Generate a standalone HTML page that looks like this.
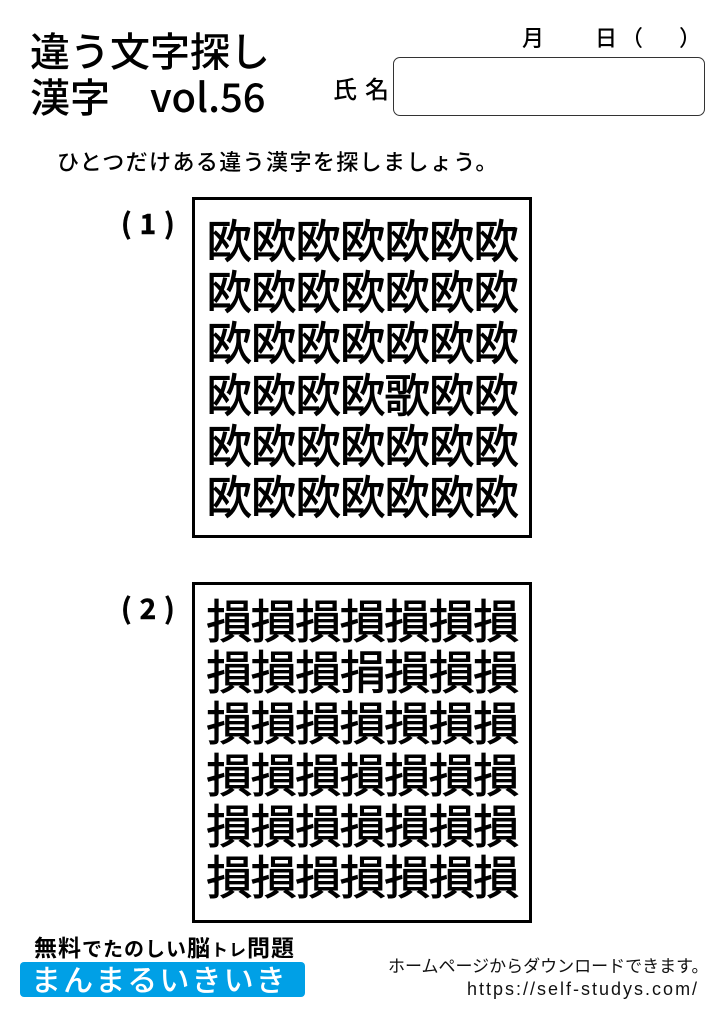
<!DOCTYPE html>
<html><head><meta charset="utf-8">
<style>
html,body{margin:0;padding:0;background:#fff;}
body{width:724px;height:1024px;position:relative;overflow:hidden;font-family:"Liberation Sans","Noto Sans CJK JP",sans-serif;color:#000;}
.a{position:absolute;white-space:pre;}
.jp{font-family:"Noto Sans CJK JP","Liberation Sans",sans-serif;}
.title{left:30px;top:26px;font-size:40px;line-height:46px;font-weight:500;}
.box{position:absolute;left:192px;width:334px;height:335px;border:3px solid #000;}
.grid{position:absolute;left:192px;width:340px;text-align:center;font-size:46px;line-height:51.2px;letter-spacing:-1.5px;font-weight:400;-webkit-text-stroke:0.9px #000;}
.lbl{font-size:28px;line-height:28px;font-weight:700;letter-spacing:8px;-webkit-text-stroke:0.5px #000;}
</style></head><body>

<div class="a jp title">違う文字探し
漢字　vol.56</div>

<div class="a jp" style="left:522px;top:26px;font-size:22px;line-height:22px;font-weight:500;">月</div>
<div class="a jp" style="left:595px;top:26px;font-size:22px;line-height:22px;font-weight:500;">日</div>
<div class="a jp" style="left:621px;top:26px;font-size:22px;line-height:22px;font-weight:500;">（</div>
<div class="a jp" style="left:679px;top:26px;font-size:22px;line-height:22px;font-weight:500;">）</div>

<div class="a jp" style="left:333px;top:76px;font-size:24px;line-height:24px;font-weight:500;letter-spacing:8px;">氏名</div>
<div style="position:absolute;left:393px;top:57px;width:310px;height:57px;border:1.5px solid #333;border-radius:7px;"></div>

<div class="a jp" style="left:57px;top:150px;font-size:22px;line-height:22px;font-weight:500;letter-spacing:1.4px;">ひとつだけある違う漢字を探しましょう。</div>

<div class="a jp lbl" style="left:121px;top:209px;">(1)</div>
<div class="box" style="top:197px;"></div>
<div class="a jp grid" style="top:214px;">欧欧欧欧欧欧欧
欧欧欧欧欧欧欧
欧欧欧欧欧欧欧
欧欧欧欧歌欧欧
欧欧欧欧欧欧欧
欧欧欧欧欧欧欧</div>

<div class="a jp lbl" style="left:121px;top:594px;">(2)</div>
<div class="box" style="top:582px;"></div>
<div class="a jp grid" style="top:594px;">損損損損損損損
損損損捐損損損
損損損損損損損
損損損損損損損
損損損損損損損
損損損損損損損</div>

<div class="a jp" style="left:34px;top:934px;line-height:24px;font-weight:700;letter-spacing:1px;"><span style="font-size:23px;">無料</span><span style="font-size:20px;">でたのしい</span><span style="font-size:23px;">脳</span><span style="font-size:17px;">トレ</span><span style="font-size:23px;">問題</span></div>

<div style="position:absolute;left:20px;top:962px;width:285px;height:35px;background:#00a0e6;border-radius:4px;"></div>
<div class="a jp" style="left:31px;top:963px;font-size:30px;line-height:30px;color:#fff;font-weight:500;letter-spacing:2.1px;">まんまるいきいき</div>

<div class="a jp" style="left:388px;top:956px;font-size:17px;line-height:17px;font-weight:400;color:#111;">ホームページからダウンロードできます。</div>
<div class="a" style="left:467px;top:980px;font-size:18px;line-height:18px;letter-spacing:2px;color:#111;">https://self-studys.com/</div>

</body></html>
